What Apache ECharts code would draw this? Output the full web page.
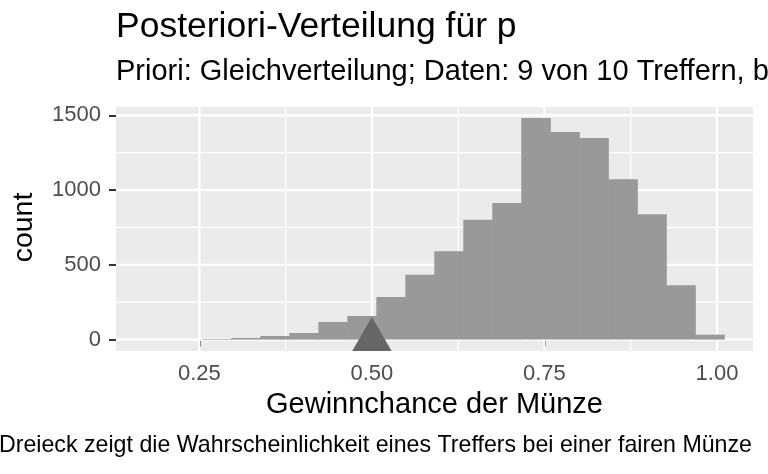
<!DOCTYPE html>
<html>
<head>
<meta charset="utf-8">
<script src="https://cdn.jsdelivr.net/npm/echarts@6/dist/echarts.min.js"></script>
<style>html,body{margin:0;padding:0;background:#fff}#c{width:768px;height:474px}</style>
</head>
<body>
<div id="c"></div>
<script>
// ---- data ----
const binLeft = [0.1709, 0.2129, 0.2549, 0.2969, 0.3389, 0.3809, 0.4229, 0.4649, 0.5069, 0.5489,
                 0.5909, 0.6329, 0.6749, 0.7169, 0.7589, 0.8009, 0.8429, 0.8849, 0.9269, 0.9689];
const binRight = [0.2129, 0.2549, 0.2969, 0.3389, 0.3809, 0.4229, 0.4649, 0.5069, 0.5489, 0.5909,
                  0.6329, 0.6749, 0.7169, 0.7589, 0.8009, 0.8429, 0.8849, 0.9269, 0.9689, 1.0109];
const counts = [0, 0, 4, 11, 24, 44, 118, 158, 285, 433, 591, 801, 913, 1482, 1388, 1348, 1073, 839, 364, 33];
const fairCoin = [[0.5, 0]];
const xTicks = [0.25, 0.5, 0.75, 1.0];
const xMinor = [0.375, 0.625, 0.875];
const yTicks = [0, 500, 1000, 1500];
const yMinor = [250, 750, 1250];
const titleText = 'Posteriori-Verteilung für p';
const subtitleText = 'Priori: Gleichverteilung; Daten: 9 von 10 Treffern, b';
const xTitle = 'Gewinnchance der Münze';
const yTitle = 'count';
const captionText = 'Dreieck zeigt die Wahrscheinlichkeit eines Treffers bei einer fairen Münze';

// ---- chart ----
const FONT = 'Liberation Sans';
const X_MIN = 0.12925, X_MAX = 1.0522, Y_MIN = -76.3, Y_MAX = 1555.6;

const chart = echarts.init(document.getElementById('c'), null, {renderer: 'canvas'});

const histData = counts.map((c, i) => [binLeft[i], binRight[i], c]).filter(d => d[2] > 0);
const vGrid = xTicks.map(v => [v, 1]).concat(xMinor.map(v => [v, 0]));
const hGrid = yTicks.map(v => [v, 1]).concat(yMinor.map(v => [v, 0]));

const option = {
  animation: false,
  grid: {left: 116, top: 107, width: 637, height: 244, show: true, backgroundColor: '#EBEBEB', borderWidth: 0},
  xAxis: {
    type: 'value', min: X_MIN, max: X_MAX,
    axisLine: {show: false},
    splitLine: {show: false},
    axisTick: {show: true, customValues: xTicks, length: 7, lineStyle: {color: '#333333', width: 2}},
    axisLabel: {customValues: xTicks, formatter: v => v.toFixed(2), color: '#4D4D4D',
                fontSize: 22, fontFamily: FONT, margin: 12}
  },
  yAxis: {
    type: 'value', min: Y_MIN, max: Y_MAX,
    axisLine: {show: false},
    splitLine: {show: false},
    axisTick: {show: true, customValues: yTicks, length: 7, lineStyle: {color: '#333333', width: 2}},
    axisLabel: {customValues: yTicks, formatter: v => String(v), color: '#4D4D4D',
                fontSize: 22, fontFamily: FONT, margin: 15}
  },
  series: [
    {
      type: 'custom', z: 1, silent: true,
      data: vGrid,
      renderItem: (params, api) => {
        const p0 = api.coord([api.value(0), Y_MIN]);
        const p1 = api.coord([api.value(0), Y_MAX]);
        return {type: 'line', shape: {x1: p0[0], y1: p0[1], x2: p1[0], y2: p1[1]},
                style: {stroke: '#FFFFFF', lineWidth: api.value(1) ? 2.2 : 1.2}};
      }
    },
    {
      type: 'custom', z: 1, silent: true,
      data: hGrid,
      renderItem: (params, api) => {
        const p0 = api.coord([X_MIN, api.value(0)]);
        const p1 = api.coord([X_MAX, api.value(0)]);
        return {type: 'line', shape: {x1: p0[0], y1: p0[1], x2: p1[0], y2: p1[1]},
                style: {stroke: '#FFFFFF', lineWidth: api.value(1) ? 2.2 : 1.2}};
      }
    },
    {
      type: 'custom', z: 2, silent: true,
      data: histData,
      renderItem: (params, api) => {
        const a = api.coord([api.value(0), api.value(2)]);
        const b = api.coord([api.value(1), 0]);
        return {type: 'rect', shape: {x: a[0] - 0.3, y: a[1], width: b[0] - a[0] + 0.6, height: b[1] - a[1]},
                style: {fill: '#999999'}};
      }
    },
    {
      type: 'scatter', z: 3, silent: true, clip: false,
      data: fairCoin,
      symbol: 'triangle', symbolSize: [39.4, 34], symbolOffset: [0, -5.6],
      itemStyle: {color: '#666666', opacity: 1}
    }
  ],
  graphic: [
    {type: 'text', x: 116, y: 27.7, silent: true,
     style: {text: titleText, fontSize: 35.5, fontFamily: FONT, fill: '#000000', align: 'left', verticalAlign: 'middle'}},
    {type: 'text', x: 116, y: 72.3, silent: true,
     style: {text: subtitleText, fontSize: 29, fontFamily: FONT, fill: '#000000', align: 'left', verticalAlign: 'middle'}},
    {type: 'text', x: 434.5, y: 405, silent: true,
     style: {text: xTitle, fontSize: 29, fontFamily: FONT, fill: '#000000', align: 'center', verticalAlign: 'middle'}},
    {type: 'text', x: 24.6, y: 227.5, rotation: Math.PI / 2, silent: true,
     style: {text: yTitle, fontSize: 28.5, fontFamily: FONT, fill: '#000000', align: 'center', verticalAlign: 'middle'}},
    {type: 'text', x: 752, y: 446, silent: true,
     style: {text: captionText, fontSize: 23.2, fontFamily: FONT, fill: '#000000', align: 'right', verticalAlign: 'middle'}}
  ]
};
chart.setOption(option);
</script>
</body>
</html>
